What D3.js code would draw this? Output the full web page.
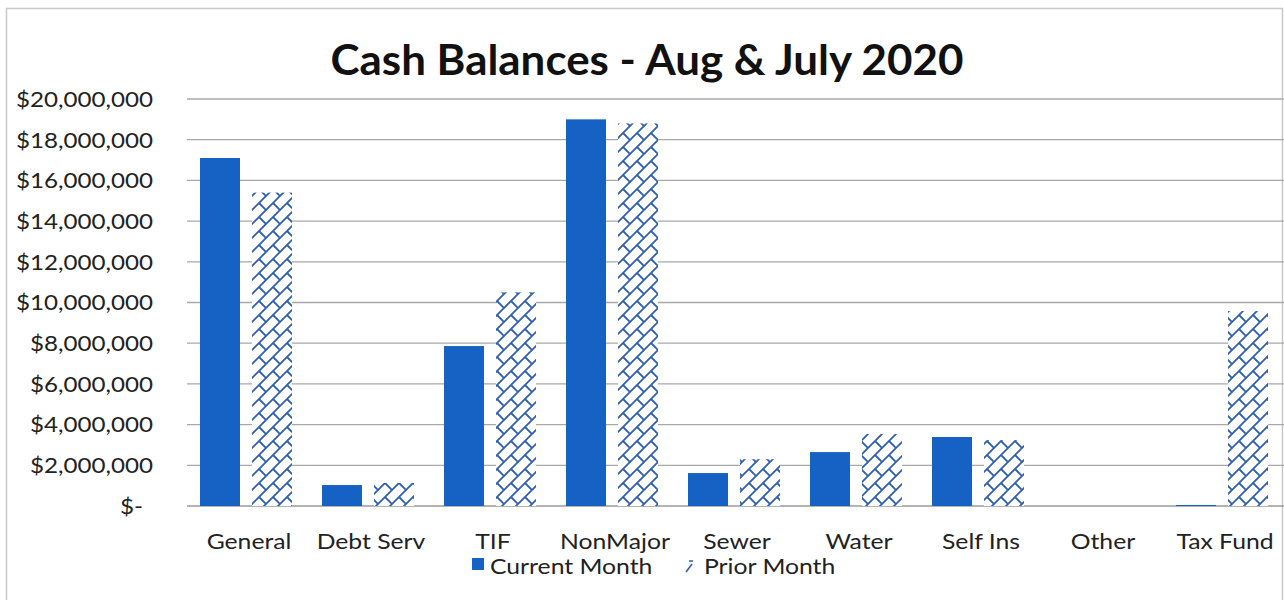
<!DOCTYPE html>
<html><head><meta charset="utf-8">
<script src="https://cdn.jsdelivr.net/npm/d3@7"></script>
<style>body{margin:0;background:#fff}svg{display:block}</style>
</head><body><svg id="c" width="1284" height="600"></svg>
<script>
const categories = ["General","Debt Serv","TIF","NonMajor","Sewer","Water","Self Ins","Other","Tax Fund"];
const currentMonth = [17100000,1030000,7860000,19000000,1620000,2650000,3390000,0,50000];
const priorMonth   = [15400000,1130000,10500000,18800000,2300000,3540000,3240000,0,9580000];
const yTicks = [0,2000000,4000000,6000000,8000000,10000000,12000000,14000000,16000000,18000000,20000000];
const seriesNames = ["Current Month","Prior Month"];

const svg = d3.select("#c");
const font = "Lato, 'Open Sans', sans-serif";
const blue = "#1562c4", hatch = "#2f5fb3";
const stretch = 1.15;
function widen(sel){ sel.each(function(){ const w=this.getComputedTextLength(); d3.select(this).attr("textLength",w*stretch).attr("lengthAdjust","spacingAndGlyphs"); }); }

const defs = svg.append("defs");
const pat = defs.append("pattern").attr("id","brick").attr("patternUnits","userSpaceOnUse")
  .attr("width",14).attr("height",14);
pat.append("rect").attr("width",14).attr("height",14).attr("fill","#fff");
pat.append("path").attr("d","M-1,15 L15,-1 M-1,1 L1,-1 M13,15 L15,13 M7,7 L14,14")
  .attr("stroke",hatch).attr("stroke-width",1.8).attr("fill","none");

// border
svg.append("rect").attr("x",6.5).attr("y",8.5).attr("width",1276).attr("height",600)
  .attr("fill","none").attr("stroke","#c8c8c8").attr("stroke-width",1.5);

const x = d3.scaleBand().domain(categories).range([188,1286]).paddingInner(0).paddingOuter(0);
const y = d3.scaleLinear().domain([0,20000000]).range([506,99]);

// gridlines
svg.append("g").selectAll("line").data(yTicks).join("line")
  .attr("x1",187).attr("x2",1284).attr("y1",d=>y(d)).attr("y2",d=>y(d))
  .attr("stroke",d=>d===0?"#9a9a9a":"#a8a8a8").attr("stroke-width",1.3);

// y axis labels
const yAxis = d3.axisLeft(y).tickValues(yTicks).tickSize(0).tickPadding(0)
  .tickFormat(d=> d===0 ? "$-" : "$"+d3.format(",")(d));
const ya = svg.append("g").attr("transform","translate(153,0)").call(yAxis);
ya.select(".domain").remove();
ya.selectAll("text").attr("font-family",font).attr("font-size",21).attr("fill","#222")
  .attr("dy","0.35em").attr("dx",d=>d===0?-10:0).call(widen);

// bars
const bw = 40;
svg.append("g").selectAll("rect").data(categories).join("rect")
  .attr("x",d=>x(d)+12).attr("width",bw)
  .attr("y",(d,i)=>y(currentMonth[i])).attr("height",(d,i)=>y(0)-y(currentMonth[i]))
  .attr("fill",blue);
svg.append("g").selectAll("rect").data(categories).join("rect")
  .attr("x",d=>x(d)+64).attr("width",bw)
  .attr("y",(d,i)=>y(priorMonth[i])).attr("height",(d,i)=>y(0)-y(priorMonth[i]))
  .attr("fill","url(#brick)");

// category labels
const xAxis = d3.axisBottom(x).tickSize(0).tickPadding(0);
const xa = svg.append("g").attr("transform","translate(0,549)").call(xAxis);
xa.select(".domain").remove();
xa.selectAll("text").attr("font-family",font).attr("font-size",21.5).attr("fill","#222").attr("dy",0).call(widen);

// title
svg.append("text").attr("x",647).attr("y",75).attr("text-anchor","middle")
  .attr("font-family",font).attr("font-weight","bold").attr("font-size",42)
  .attr("textLength",633).attr("lengthAdjust","spacingAndGlyphs")
  .attr("fill","#111").text("Cash Balances - Aug & July 2020");

// legend
const lg = svg.append("g");
lg.append("rect").attr("x",472).attr("y",558).attr("width",12).attr("height",12).attr("fill",blue);
lg.append("text").attr("x",490).attr("y",574).attr("font-family",font).attr("font-size",21.5)
  .attr("fill","#222").text(seriesNames[0]).call(widen);
lg.append("path").attr("d","M686,572 L692,564 M689,561 L693,561").attr("stroke",hatch).attr("stroke-width",1.6).attr("fill","none");
lg.append("text").attr("x",704).attr("y",574).attr("font-family",font).attr("font-size",21.5)
  .attr("fill","#222").text(seriesNames[1]).call(widen);
</script></body></html>
